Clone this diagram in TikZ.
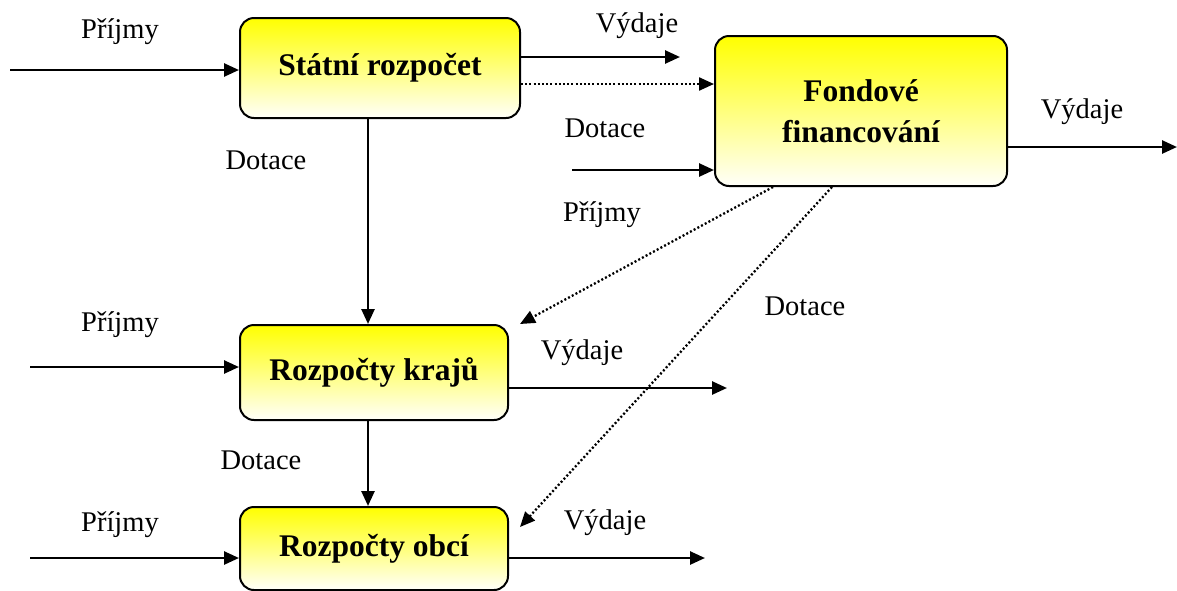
\documentclass[tikz,border=0pt]{standalone}
\usepackage{fontspec}
\setmainfont{Liberation Serif}
\usetikzlibrary{arrows.meta}
\tikzset{
  box/.style={draw=black, line width=2pt, rounded corners=14pt, top color=yellow, bottom color=yellow!2, align=center, font=\fontsize{31.5}{41}\selectfont\bfseries, inner sep=0pt},
  lbl/.style={font=\fontsize{28.5}{34}\selectfont, inner sep=0pt},
  arr/.style={line width=2.6pt, -{Triangle[length=15pt,width=13pt]}},
  dotarr/.style={line width=2.3pt, dash pattern=on 2pt off 2.2pt, -{Triangle[length=15pt,width=13pt]}}
}
\begin{document}
\begin{tikzpicture}[x=1pt,y=-1pt]
\useasboundingbox (0,0) rectangle (1177,590);
% boxes
\node[box, minimum width=280pt, minimum height=100pt] (sr) at (380,68) {Státní rozpočet};
\node[box, minimum width=292pt, minimum height=150pt] (ff) at (861,111) {Fondové\\financování};
\node[box, minimum width=268pt, minimum height=95pt] (rk) at (374,372.5) {Rozpočty krajů};
\node[box, minimum width=268pt, minimum height=83pt] (ro) at (374,548.5) {Rozpočty obcí};
% labels
\node[lbl] (l1) at (120,32) {Příjmy};
\node[lbl] (l2) at (637,26) {Výdaje};
\node[lbl] (l3) at (266,160) {Dotace};
\node[lbl] (l4) at (605,128) {Dotace};
\node[lbl] (l5) at (602,215) {Příjmy};
\node[lbl] (l6) at (1082,112) {Výdaje};
\node[lbl] (l7) at (805,306) {Dotace};
\node[lbl] (l8) at (120,325) {Příjmy};
\node[lbl] (l9) at (582,353) {Výdaje};
\node[lbl] (l10) at (261,460) {Dotace};
\node[lbl] (l11) at (120,525) {Příjmy};
\node[lbl] (l12) at (605,523) {Výdaje};
% coordinates
\coordinate (p1) at (10,70);
\coordinate (v1) at (680,57);
\coordinate (d1) at (0,84);
\coordinate (d2) at (572,170);
\coordinate (v2) at (1177,147);
\coordinate (vx) at (368,0);
\coordinate (s1) at (773,0);
\coordinate (t1) at (520,324);
\coordinate (s2) at (832,0);
\coordinate (t2) at (520,527);
\coordinate (p3) at (30,367);
\coordinate (v3) at (727,388);
\coordinate (p4) at (30,558);
\coordinate (v4) at (705,558);
% connectors
\draw[arr] (p1) -- (p1 -| sr.west);
\draw[arr] (v1 -| sr.east) -- (v1);
\draw[dotarr] (d1 -| sr.east) -- (d1 -| ff.west);
\draw[arr] (d2) -- (d2 -| ff.west);
\draw[arr] (v2 -| ff.east) -- (v2);
\draw[arr] (vx |- sr.south) -- (vx |- rk.north);
\draw[arr] (vx |- rk.south) -- (vx |- ro.north);
\draw[dotarr] (s1 |- ff.south) -- (t1);
\draw[dotarr] (s2 |- ff.south) -- (t2);
\draw[arr] (p3) -- (p3 -| rk.west);
\draw[arr] (v3 -| rk.east) -- (v3);
\draw[arr] (p4) -- (p4 -| ro.west);
\draw[arr] (v4 -| ro.east) -- (v4);
\end{tikzpicture}
\end{document}
